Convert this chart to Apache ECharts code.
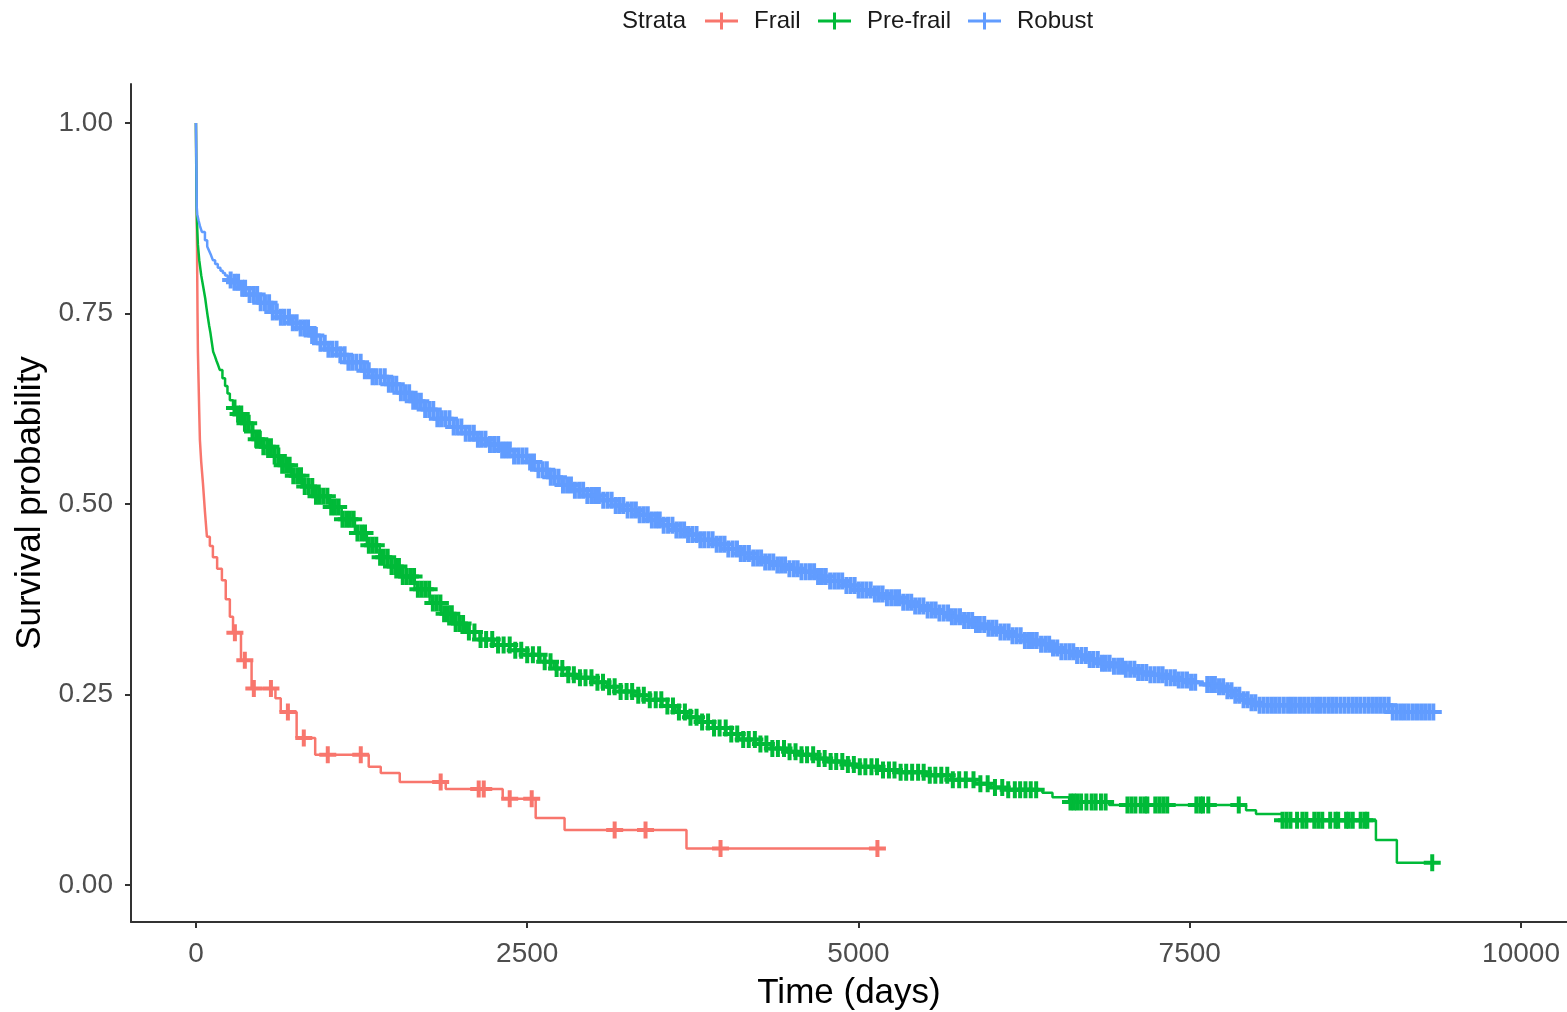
<!DOCTYPE html>
<html>
<head>
<meta charset="utf-8">
<script src="https://cdn.jsdelivr.net/npm/echarts@6/dist/echarts.min.js"></script>
<style>
  html, body { margin: 0; padding: 0; background: #fff; }
  #main { width: 1567px; height: 1012px; }
</style>
</head>
<body>
<div id="main"></div>
<script>
// Kaplan-Meier curves, values
const strataNames = ['Frail', 'Pre-frail', 'Robust']
const strataColors = ['#F8766D', '#00BA38', '#619CFF']

const xTicks = [0, 2500, 5000, 7500, 10000]
const yTicks = [0, 0.25, 0.5, 0.75, 1]

// Frail
const redTime = [0, 5, 8, 12, 15, 20, 25, 30, 40, 53, 68, 83, 105, 128, 160, 196, 225, 256, 280, 340, 420, 600, 640, 760, 900, 1304, 1395, 1538, 1885, 2315, 2564, 2782, 3702, 5190]
const redSurv = [1.0, 0.9, 0.84, 0.75, 0.70, 0.66, 0.62, 0.584, 0.555, 0.527, 0.49, 0.457, 0.445, 0.43, 0.415, 0.40, 0.375, 0.352, 0.331, 0.295, 0.258, 0.245, 0.227, 0.193, 0.171, 0.155, 0.147, 0.135, 0.126, 0.113, 0.088, 0.072, 0.048, 0.048]
const redCensor = [294, 369, 437, 566, 694, 814, 995, 1244, 1847, 2134, 2172, 2368, 2534, 3160, 3393, 3959, 5143]

// Pre-frail
const greenTime = [0, 2, 5, 10, 15, 25, 40, 55, 70, 80, 90, 100, 110, 120, 130, 143, 155, 168, 180, 200, 220, 238, 256, 280, 300, 350, 400, 450, 500, 570, 633, 720, 800, 900, 1010, 1100, 1200, 1290, 1387, 1470, 1550, 1650, 1764, 1850, 1950, 2040, 2141, 2250, 2370, 2500, 2600, 2700, 2800, 2895, 3000, 3100, 3200, 3300, 3423, 3520, 3620, 3710, 3800, 3900, 4000, 4100, 4220, 4340, 4450, 4554, 4670, 4780, 4890, 5000, 5150, 5300, 5500, 5700, 5880, 6000, 6100, 6388, 6464, 6590, 6892, 7925, 8000, 8200, 8905, 9063, 9350]
const greenSurv = [1.0, 0.95, 0.89, 0.86, 0.84, 0.82, 0.80, 0.785, 0.77, 0.757, 0.745, 0.734, 0.724, 0.712, 0.70, 0.694, 0.688, 0.682, 0.676, 0.665, 0.655, 0.645, 0.636, 0.626, 0.618, 0.606, 0.595, 0.585, 0.575, 0.563, 0.551, 0.537, 0.523, 0.51, 0.496, 0.48, 0.462, 0.446, 0.43, 0.418, 0.405, 0.388, 0.37, 0.356, 0.343, 0.332, 0.322, 0.315, 0.308, 0.302, 0.293, 0.284, 0.276, 0.272, 0.266, 0.26, 0.254, 0.249, 0.243, 0.235, 0.227, 0.22, 0.214, 0.206, 0.198, 0.191, 0.185, 0.179, 0.175, 0.171, 0.166, 0.162, 0.158, 0.155, 0.151, 0.148, 0.144, 0.138, 0.133, 0.128, 0.125, 0.121, 0.115, 0.109, 0.105, 0.098, 0.093, 0.085, 0.059, 0.029, 0.029]
const greenCensor = [291, 318, 342, 370, 398, 427, 455, 482, 509, 538, 566, 594, 622, 651, 680, 707, 735, 764, 793, 821, 850, 878, 906, 935, 963, 992, 1021, 1049, 1077, 1106, 1134, 1162, 1190, 1219, 1248, 1276, 1305, 1333, 1361, 1390, 1418, 1447, 1476, 1504, 1532, 1561, 1590, 1618, 1646, 1675, 1703, 1731, 1760, 1788, 1817, 1845, 1873, 1902, 1931, 1960, 1988,
  2016, 2060, 2102, 2148, 2190, 2236, 2280, 2322, 2368, 2410, 2455, 2500, 2543, 2590, 2632, 2676, 2722, 2765, 2810, 2852, 2898, 2940, 2985, 3030, 3072, 3118, 3160, 3205, 3250, 3292, 3338, 3380, 3425, 3470, 3512, 3558, 3600, 3645, 3690, 3732, 3778, 3820, 3865, 3910, 3952, 3998, 4040, 4085, 4130, 4172, 4218, 4260, 4305, 4350, 4392, 4438, 4480, 4525, 4570, 4612, 4658, 4700, 4745, 4790, 4832, 4878, 4920, 4965, 5010, 5052, 5098, 5140, 5185, 5230, 5272, 5318, 5360, 5405, 5450, 5492, 5538, 5580, 5625, 5670, 5712, 5760, 5810, 5868, 5920, 5975, 6030, 6085, 6130, 6180, 6220, 6260, 6300, 6341,
  6600, 6625, 6650, 6680, 6720, 6760, 6790, 6830, 6865, 7030, 7060, 7090, 7130, 7160, 7180, 7240, 7270, 7300, 7330, 7550, 7580, 7600, 7640, 7870, 8200, 8230, 8260, 8310, 8350, 8380, 8440, 8470, 8500, 8560, 8600, 8620, 8680, 8700, 8730, 8790, 8820, 8840, 9330]

// Robust
const blueTime = [0, 2, 4, 6, 10, 20, 30, 45, 68, 85, 100, 115, 128, 145, 165, 185, 203, 220, 240, 260, 279, 340, 400, 480, 558, 640, 710, 784, 860, 940, 1000, 1063, 1150, 1250, 1330, 1430, 1538, 1630, 1720, 1820, 1915, 2010, 2100, 2200, 2292, 2400, 2500, 2580, 2660, 2745, 2850, 2950, 3046, 3140, 3230, 3330, 3423, 3520, 3610, 3700, 3800, 3900, 3990, 4090, 4177, 4270, 4360, 4460, 4554, 4670, 4780, 4890, 5000, 5100, 5200, 5308, 5400, 5500, 5590, 5685, 5780, 5870, 5970, 6062, 6150, 6250, 6350, 6440, 6530, 6630, 6720, 6816, 6910, 7000, 7100, 7193, 7300, 7400, 7500, 7600, 7700, 7770, 7835, 7900, 7950, 8020, 9025, 9360]
const blueSurv = [1.0, 0.97, 0.94, 0.89, 0.88, 0.872, 0.865, 0.857, 0.846, 0.838, 0.832, 0.826, 0.82, 0.815, 0.81, 0.806, 0.803, 0.8, 0.797, 0.794, 0.791, 0.783, 0.775, 0.764, 0.752, 0.745, 0.738, 0.731, 0.721, 0.711, 0.703, 0.696, 0.686, 0.675, 0.667, 0.657, 0.646, 0.635, 0.624, 0.612, 0.601, 0.593, 0.585, 0.578, 0.571, 0.563, 0.555, 0.545, 0.535, 0.525, 0.518, 0.511, 0.505, 0.498, 0.492, 0.486, 0.479, 0.472, 0.466, 0.46, 0.453, 0.447, 0.441, 0.435, 0.429, 0.424, 0.42, 0.415, 0.411, 0.405, 0.399, 0.393, 0.387, 0.382, 0.377, 0.371, 0.366, 0.361, 0.357, 0.352, 0.347, 0.342, 0.337, 0.332, 0.327, 0.321, 0.316, 0.311, 0.306, 0.301, 0.296, 0.291, 0.287, 0.283, 0.279, 0.276, 0.272, 0.269, 0.266, 0.263, 0.26, 0.255, 0.249, 0.243, 0.239, 0.236, 0.227, 0.227]
const blueCensor = [262, 291, 318, 349, 371, 405, 436, 462, 489, 521, 552, 580, 610, 641, 668, 702, 731, 760, 790, 818, 846, 877, 905, 940, 972, 1000, 1028, 1061, 1090, 1122, 1151, 1179, 1210, 1243, 1275, 1304, 1333, 1360, 1392, 1425, 1456, 1484, 1512, 1547, 1578, 1609, 1640, 1668, 1697, 1730, 1760, 1791, 1822, 1850, 1881, 1913, 1945, 1972, 2003, 2036, 2066, 2097, 2128, 2155, 2185, 2219, 2250, 2281, 2311, 2340, 2369, 2401, 2432, 2463, 2494, 2522, 2551, 2585, 2617, 2648, 2678, 2706, 2736, 2770, 2801, 2830, 2860, 2892, 2922, 2954, 2985, 3012, 3041, 3074, 3106, 3137, 3168, 3196, 3225, 3258, 3290, 3320, 3349, 3380, 3410, 3441, 3472, 3500, 3530, 3563, 3596, 3626, 3655, 3684, 3714, 3746, 3778, 3807, 3836, 3868, 3899, 3930, 3960, 3989, 4018, 4051, 4083, 4112, 4141, 4173, 4206, 4236, 4265, 4296, 4327, 4357, 4388, 4416, 4446, 4479, 4512, 4541, 4570, 4602, 4634, 4665, 4695, 4724, 4753, 4786, 4818, 4847, 4877, 4909, 4940, 4971, 5001, 5030, 5060, 5092, 5124, 5153, 5182, 5215, 5247, 5277, 5306, 5338, 5369, 5398, 5428, 5459, 5490, 5522, 5553, 5582, 5611, 5643, 5676, 5705, 5734, 5766, 5797, 5828, 5858, 5887, 5916, 5949, 5981, 6010, 6040, 6072, 6103, 6133, 6162, 6193, 6224, 6256, 6287, 6316, 6345, 6378, 6410, 6439, 6468, 6500, 6531, 6562, 6592, 6621, 6650, 6683, 6716, 6745, 6773, 6806, 6838, 6866, 6895, 6928, 6960, 6989, 7018, 7050, 7082, 7111, 7141, 7172, 7203, 7235, 7266, 7295, 7324, 7356, 7388, 7417, 7447, 7479, 7510, 7541, 7632, 7661, 7690, 7721, 7752, 7784, 7815, 7844, 7874, 7906, 7937, 7966, 7995, 8027, 8058, 8089, 8120, 8149, 8178, 8210, 8242, 8271, 8300, 8332, 8363, 8394, 8425, 8454, 8483, 8515, 8546, 8575, 8605, 8637, 8668, 8699, 8730, 8759, 8788, 8820, 8851, 8882, 8912, 8941, 8970, 9001, 9032, 9063, 9094, 9123, 9152, 9184, 9215, 9246, 9276, 9307, 9338]

const FONT = '"Liberation Sans", Arial, sans-serif'
const plusSymbol = 'path://M0,6.5 H17 V10.5 H0 Z M6.5,0 H10.5 V17 H6.5 Z'
const plusLegend = 'path://M0,7 H33 V10 H0 Z M15,0 H18 V17 H15 Z'

// value of the step curve at time t
function survAt (times, surv, t) {
  let s = surv[0]
  for (let i = 0; i < times.length; i++) {
    if (times[i] <= t) s = surv[i]
  }
  return s
}

const curves = [
  { time: redTime, surv: redSurv, censor: redCensor },
  { time: greenTime, surv: greenSurv, censor: greenCensor },
  { time: blueTime, surv: blueSurv, censor: blueCensor }
]

const series = []
curves.forEach((c, i) => {
  series.push({
    name: strataNames[i],
    type: 'line',
    step: 'end',
    showSymbol: false,
    data: c.time.map((t, k) => [t, c.surv[k]]),
    lineStyle: { color: strataColors[i], width: 2.5 },
    itemStyle: { color: strataColors[i] },
    z: 2 + i * 2
  })
  series.push({
    name: strataNames[i] + ' censor',
    type: 'scatter',
    symbol: plusSymbol,
    symbolSize: 17,
    data: c.censor.map(t => [t, survAt(c.time, c.surv, t)]),
    itemStyle: { color: strataColors[i], opacity: 1 },
    silent: true,
    z: 3 + i * 2
  })
})

const legendLeft = [700, 813, 963]
const legends = strataNames.map((name, i) => ({
  data: [name],
  left: legendLeft[i],
  top: 4,
  icon: plusLegend,
  itemWidth: 33,
  itemHeight: 17,
  selectedMode: false,
  textStyle: { fontFamily: FONT, fontSize: 24, color: '#1a1a1a', padding: [0, 0, 0, 11] }
}))

const chart = echarts.init(document.getElementById('main'))
const option = {
  animation: false,
  backgroundColor: '#fff',
  graphic: [{
    type: 'text',
    left: 622,
    top: 9,
    style: { text: 'Strata', font: '24px ' + FONT, fill: '#1a1a1a' }
  }],
  legend: legends,
  grid: { left: 131, right: 0, top: 84, bottom: 90, containLabel: false, outerBoundsMode: 'none' },
  xAxis: {
    type: 'value',
    min: -490,
    max: 10347,
    name: 'Time (days)',
    nameLocation: 'middle',
    nameGap: 54,
    nameTextStyle: { fontFamily: FONT, fontSize: 35, color: '#000' },
    splitLine: { show: false },
    axisLine: { onZero: false, lineStyle: { color: '#333', width: 2 } },
    axisTick: { length: 6, lineStyle: { color: '#333', width: 2 }, customValues: xTicks },
    axisLabel: {
      customValues: xTicks,
      margin: 18,
      fontFamily: FONT,
      fontSize: 28,
      color: '#4d4d4d',
      formatter: v => String(v)
    }
  },
  yAxis: {
    type: 'value',
    min: -0.0486,
    max: 1.0512,
    name: 'Survival probability',
    nameLocation: 'middle',
    nameGap: 68,
    nameTextStyle: { fontFamily: FONT, fontSize: 35, color: '#000' },
    splitLine: { show: false },
    axisLine: { show: true, onZero: false, lineStyle: { color: '#333', width: 2 } },
    axisTick: { show: true, length: 6, lineStyle: { color: '#333', width: 2 }, customValues: yTicks },
    axisLabel: {
      customValues: yTicks,
      margin: 18,
      fontFamily: FONT,
      fontSize: 28,
      color: '#4d4d4d',
      formatter: v => v.toFixed(2)
    }
  },
  series: series
}
chart.setOption(option)
</script>
</body>
</html>
